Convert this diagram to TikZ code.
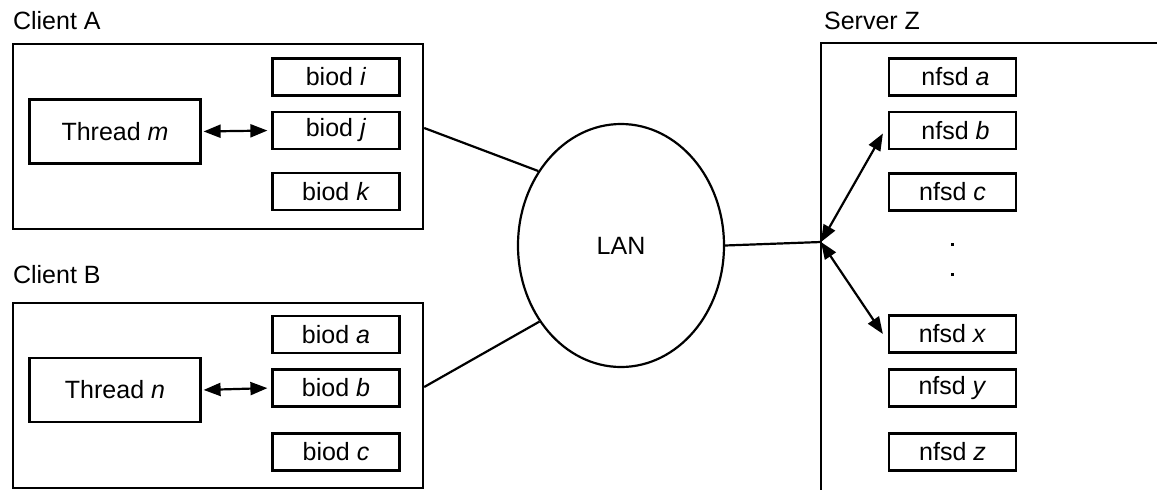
\documentclass[tikz,border=0pt]{standalone}
\usepackage{fontspec}
\setmainfont{Liberation Sans}
\usetikzlibrary{arrows.meta,shapes.geometric}
\begin{document}
\begin{tikzpicture}[x=1pt,y=-1pt,
  line width=2.2pt,
  every node/.style={font=\fontsize{25}{30}\selectfont},
  proc/.style={draw, minimum width=127pt, minimum height=37pt, inner sep=0pt},
  thr/.style={draw, minimum width=171pt, minimum height=64pt, inner sep=0pt},
  frame/.style={draw, inner sep=0pt, anchor=north west},
  lbl/.style={anchor=base west, inner sep=0pt},
  dbl/.style={{Triangle[length=17pt,width=13pt]}-{Triangle[length=17pt,width=13pt]}}]
\useasboundingbox (0,0) rectangle (1157,490);

% Client A
\node[lbl] (lca) at (12,29) {Client A};
\node[frame, minimum width=410pt, minimum height=185pt] (ca) at (12,43) {};
\node[proc] (bi) at (336,77) {biod \textit{i}};
\node[proc] (bj) at (336,130.5) {biod \textit{j}};
\node[proc] (bk) at (336,191.5) {biod \textit{k}};
\node[thr] (tm) at (115,131.5) {Thread \textit{m}};
\draw[dbl, shorten <=2pt, shorten >=4pt] (tm.east) -- (bj.west);

% Client B
\node[lbl] (lcb) at (12,283) {Client B};
\node[frame, minimum width=410pt, minimum height=185pt] (cb) at (12,302) {};
\node[proc] (ba) at (336,334.5) {biod \textit{a}};
\node[proc] (bb) at (336,388) {biod \textit{b}};
\node[proc] (bc) at (336,452) {biod \textit{c}};
\node[thr] (tn) at (115,390) {Thread \textit{n}};
\draw[dbl, shorten <=2pt, shorten >=4pt] (tn.east) -- (bb.west);

% LAN
\node[draw, ellipse, minimum width=206pt, minimum height=243pt, inner sep=0pt] (lan) at (621,245.5) {LAN};

% Server Z
\node[lbl] (lsz) at (823,29) {Server Z};
\draw (1157,43) -- (821,43) -- (821,490);
\coordinate (hub) at (821,242);
\node[proc] (na) at (952.5,77) {\hspace{6pt}nfsd \textit{a}};
\node[proc] (nb) at (952.5,130.5) {\hspace{6pt}nfsd \textit{b}};
\node[proc] (nc) at (952.5,192) {nfsd \textit{c}};
\node[proc] (nx) at (952.5,334) {nfsd \textit{x}};
\node[proc] (ny) at (952.5,388) {nfsd \textit{y}};
\node[proc] (nz) at (952.5,452) {nfsd \textit{z}};
\fill (950.5,242.5) rectangle ++(3,3);
\fill (950.5,272.5) rectangle ++(3,3);

% connectors
\draw (ca.north east) ++(0,85) coordinate (caout) (caout) -- (lan.138);
\draw (cb.north east) ++(0,85) coordinate (cbout) (cbout) -- (lan.223);
\draw (lan.east) -- (hub);
\draw[dbl] (hub) -- ([xshift=-5pt,yshift=-3pt]nb.west);
\draw[dbl] (hub) -- ([xshift=-5pt]nx.west);
\end{tikzpicture}
\end{document}
